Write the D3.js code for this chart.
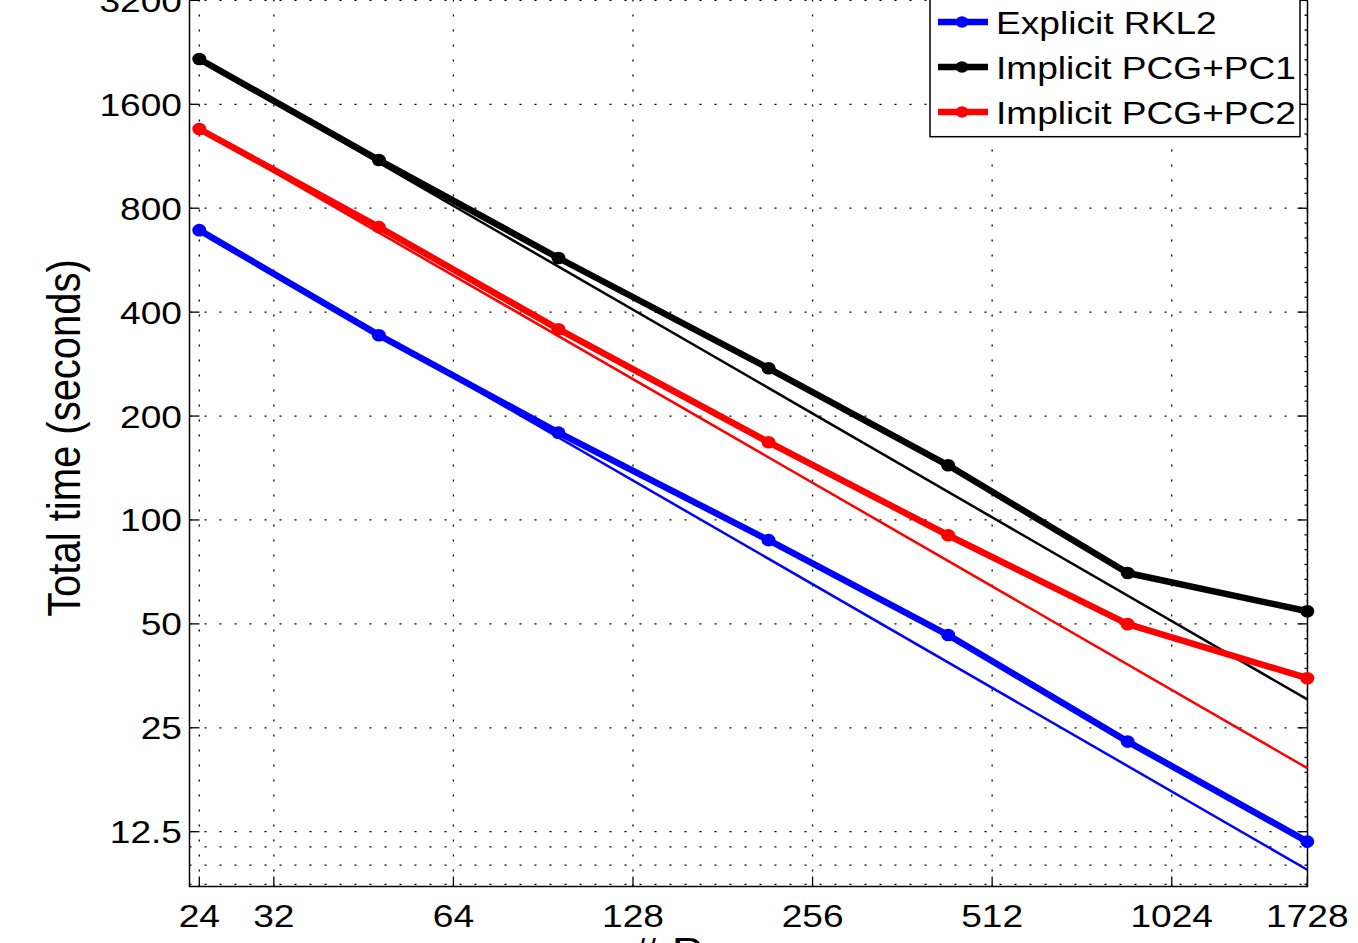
<!DOCTYPE html>
<html>
<head>
<meta charset="utf-8">
<script src="https://cdn.jsdelivr.net/npm/d3@7"></script>
<style>
  body { margin: 0; background: #fff; }
  svg { display: block; font-family: "Liberation Sans", Arial, Helvetica, sans-serif; }
</style>
</head>
<body>
<div id="chart"></div>
<script>
// processor counts and timings (seconds)
const procs = [24, 48, 96, 216, 432, 864, 1728];
const rkl2 = [691, 343, 179, 87.4, 46.4, 22.8, 11.7];
const pc1 = [2164, 1103, 574, 275, 144, 70.2, 54.4];
const pc2 = [1357, 705, 357, 168, 90.3, 49.9, 34.8];

// ideal scaling lines (first and last processor count)
const idealProcs = [24, 1728];
const idealRkl2 = [691, 9.7];
const idealPc1 = [2164, 30.2];
const idealPc2 = [1357, 19.1];

const xTicks = [24, 32, 64, 128, 256, 512, 1024, 1728];
const yTicks = [12.5, 25, 50, 100, 200, 400, 800, 1600, 3200];
const yTickLabels = ['12.5', '25', '50', '100', '200', '400', '800', '1600', '3200'];
const yMinorGrid = [11.3, 10, 8.8];

const seriesNames = ['Explicit RKL2', 'Implicit PCG+PC1', 'Implicit PCG+PC2'];
const seriesColors = ['#0000ff', '#000000', '#ff0000'];

const width = 1358;
const height = 943;
const stretch = 1.16; // glyphs in the picture are wider than plain Helvetica

const x = d3.scaleLog().base(2)
  .domain([24, 1728])
  .range([199.3, 1307.3]);

const y = d3.scaleLog().base(2)
  .domain([12.5, 1600])
  .range([831.7, 104.3]);

const plot = {left: 189.5, right: 1307.5, top: -20, bottom: 886.5};

const svg = d3.select('#chart')
  .append('svg')
  .attr('width', width)
  .attr('height', height);

function label(g, tx, ty, str, size, anchor, rot) {
  return g.append('text')
    .attr('transform', `translate(${tx},${ty}) scale(${stretch},1)` + (rot ? ` rotate(${rot})` : ''))
    .attr('text-anchor', anchor)
    .attr('font-size', size)
    .text(str);
}

// grid
const grid = svg.append('g')
  .attr('stroke', '#000')
  .attr('stroke-width', 1.3)
  .attr('stroke-dasharray', '2,13');

grid.selectAll('line.vx')
  .data(xTicks)
  .join('line')
  .attr('class', 'vx')
  .attr('x1', d => x(d)).attr('x2', d => x(d))
  .attr('y1', plot.bottom).attr('y2', plot.top);

grid.selectAll('line.hy')
  .data(yTicks.concat(yMinorGrid))
  .join('line')
  .attr('class', 'hy')
  .attr('y1', d => y(d)).attr('y2', d => y(d))
  .attr('x1', plot.left).attr('x2', plot.right);

// minor ticks on the right axis (7 per doubling)
const minor = [];
for (let i = 0; i < yTicks.length - 1; i++) {
  for (let k = 1; k < 7; k++) minor.push(yTicks[i] * Math.pow(2, k / 7));
}
minor.push(...yMinorGrid);
svg.append('g')
  .selectAll('line')
  .data(minor)
  .join('line')
  .attr('x1', plot.right - 3).attr('x2', plot.right)
  .attr('y1', d => y(d)).attr('y2', d => y(d))
  .attr('stroke', '#000').attr('stroke-width', 1.3);

// major ticks
const ticks = svg.append('g').attr('stroke', '#000').attr('stroke-width', 1.3);
ticks.selectAll('line.yl')
  .data(yTicks)
  .join('line')
  .attr('x1', plot.left).attr('x2', plot.left + 10)
  .attr('y1', d => y(d)).attr('y2', d => y(d));
ticks.selectAll('line.yr')
  .data(yTicks)
  .join('line')
  .attr('x1', plot.right - 10).attr('x2', plot.right)
  .attr('y1', d => y(d)).attr('y2', d => y(d));
ticks.selectAll('line.xb')
  .data(xTicks)
  .join('line')
  .attr('x1', d => x(d)).attr('x2', d => x(d))
  .attr('y1', plot.bottom).attr('y2', plot.bottom - 10);

// axis frame
svg.append('rect')
  .attr('x', plot.left).attr('y', plot.top)
  .attr('width', plot.right - plot.left)
  .attr('height', plot.bottom - plot.top)
  .attr('fill', 'none')
  .attr('stroke', '#000')
  .attr('stroke-width', 1.5);

// tick labels
const yLab = svg.append('g');
yTicks.forEach((d, i) => label(yLab, 182, y(d) + 11.5, yTickLabels[i], 32, 'end'));

const xLab = svg.append('g');
xTicks.forEach(d => label(xLab, x(d), 927, d, 32, 'middle'));

// axis labels
label(svg, 80, 438, 'Total time (seconds)', 40, 'middle', -90);
label(svg, 633, 966, '# Processors', 40, 'start');

// lines
const line = d3.line()
  .x(d => x(d[0]))
  .y(d => y(d[1]));

const ideal = [idealRkl2, idealPc1, idealPc2];
const series = [rkl2, pc1, pc2];

ideal.forEach((vals, i) => {
  svg.append('path')
    .attr('d', line(idealProcs.map((p, j) => [p, vals[j]])))
    .attr('fill', 'none')
    .attr('stroke', seriesColors[i])
    .attr('stroke-width', 2.5);
});

series.forEach((vals, i) => {
  const pts = procs.map((p, j) => [p, vals[j]]);
  svg.append('path')
    .attr('d', line(pts))
    .attr('fill', 'none')
    .attr('stroke', seriesColors[i])
    .attr('stroke-width', 6.5)
    .attr('stroke-linejoin', 'round');
  svg.append('g')
    .selectAll('ellipse')
    .data(pts)
    .join('ellipse')
    .attr('cx', d => x(d[0]))
    .attr('cy', d => y(d[1]))
    .attr('rx', 7)
    .attr('ry', 6.3)
    .attr('fill', seriesColors[i]);
});

// legend
const legend = svg.append('g');
legend.append('rect')
  .attr('x', 930).attr('y', -10)
  .attr('width', 370).attr('height', 146.7)
  .attr('fill', '#fff')
  .attr('stroke', '#000')
  .attr('stroke-width', 1.5);

seriesNames.forEach((name, i) => {
  const cy = 22 + i * 45;
  legend.append('line')
    .attr('x1', 938).attr('x2', 988)
    .attr('y1', cy).attr('y2', cy)
    .attr('stroke', seriesColors[i])
    .attr('stroke-width', 6.5);
  legend.append('ellipse')
    .attr('cx', 962).attr('cy', cy)
    .attr('rx', 6.5).attr('ry', 5.8)
    .attr('fill', seriesColors[i]);
  label(legend, 996, cy + 11.5, name, 32, 'start');
});
</script>
</body>
</html>
